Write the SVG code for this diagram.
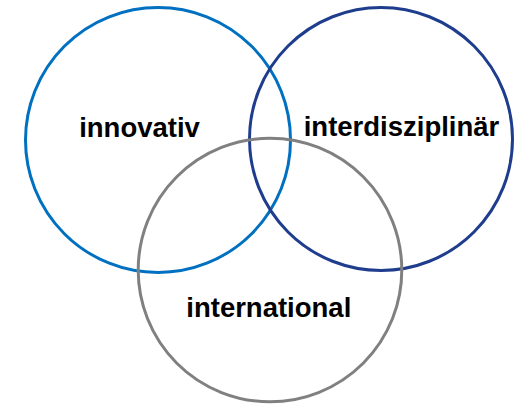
<svg xmlns="http://www.w3.org/2000/svg" width="519" height="404" viewBox="0 0 519 404">
<style>
.c{fill:none;stroke-width:3}
.t{font-family:"Liberation Sans",Arial,sans-serif;font-weight:bold;font-size:27.5px;fill:#000;text-anchor:middle}
</style>
<rect width="519" height="404" fill="#fff"/>
<g id="innovativ">
<circle class="c" cx="158" cy="140" r="132.5" stroke="#0070C0"/>
</g>
<g id="interdisziplinaer">
<circle class="c" cx="381" cy="139" r="131.5" stroke="#1F3D8D"/>
</g>
<g id="international">
<circle class="c" cx="270" cy="270" r="131.8" stroke="#808080"/>
</g>
<g id="labels">
<text class="t" x="139.5" y="136.7">innovativ</text>
<text class="t" x="401.5" y="135.5">interdisziplinär</text>
<text class="t" x="268.8" y="317.3">international</text>
</g>
</svg>
